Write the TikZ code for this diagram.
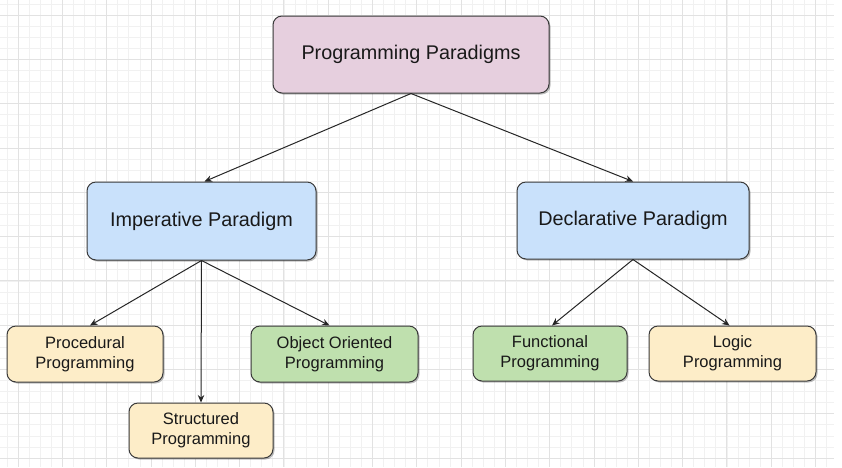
\documentclass[tikz,border=0pt]{standalone}
\usepackage{fontspec}
\setmainfont{Liberation Sans}
\usetikzlibrary{arrows.meta,shadows}
\definecolor{pinkfill}{HTML}{E6CFDE}
\definecolor{bluefill}{HTML}{C9E1FB}
\definecolor{yellowfill}{HTML}{FDEDC8}
\definecolor{greenfill}{HTML}{BFE0AE}
\definecolor{edgecol}{HTML}{3A3A3A}
\definecolor{minorgrid}{HTML}{F1F1F1}
\definecolor{majorgrid}{HTML}{E2E2E2}
\tikzset{
  box/.style={draw=edgecol, line width=1pt, rounded corners=9pt, align=center,
    text=black!90, inner sep=0pt,
    drop shadow={shadow xshift=1.5pt, shadow yshift=-1.5pt, opacity=0.25, fill=black}},
  bigbox/.style={box, font=\fontsize{19.8}{23}\selectfont},
  smallbox/.style={box, font=\fontsize{16.5}{20}\selectfont},
  conn/.style={draw=black!85, line width=1pt, -{Stealth[length=7.5pt,width=6.5pt]}}
}
\begin{document}
\begin{tikzpicture}[x=1pt,y=-1pt]
\useasboundingbox (0,0) rectangle (842,467);
\fill[white] (0,0) rectangle (842,467);
% grid
\begin{scope}
\clip (0,0) rectangle (834,467);
\foreach \i in {-2,...,76} {
  \draw[minorgrid, line width=0.6pt] ({18+11.075*\i},0) -- ({18+11.075*\i},467);
}
\foreach \i in {-2,...,42} {
  \draw[minorgrid, line width=0.6pt] (0,{15+11.075*\i}) -- (834,{15+11.075*\i});
}
\foreach \i in {-1,...,19} {
  \draw[majorgrid, line width=0.8pt] ({18+44.3*\i},0) -- ({18+44.3*\i},467);
}
\foreach \i in {-1,...,10} {
  \draw[majorgrid, line width=0.8pt] (0,{15+44.3*\i}) -- (834,{15+44.3*\i});
}
\end{scope}
% nodes
\node[bigbox, fill=pinkfill, minimum width=276pt, minimum height=77pt] (top) at (411,54.5) {Programming Paradigms};
\node[bigbox, fill=bluefill, minimum width=229pt, minimum height=78pt] (imp) at (201.5,221) {Imperative Paradigm};
\node[bigbox, fill=bluefill, minimum width=232pt, minimum height=77pt] (dec) at (633,220.5) {Declarative Paradigm};
\node[smallbox, fill=yellowfill, minimum width=156pt, minimum height=56pt] (proc) at (85,354) {Procedural\\Programming};
\node[smallbox, fill=yellowfill, minimum width=144pt, minimum height=55pt] (struc) at (201,430.5) {Structured\\Programming};
\node[smallbox, fill=greenfill, minimum width=167pt, minimum height=56pt] (oop) at (334.5,354) {Object Oriented\\Programming};
\node[smallbox, fill=greenfill, minimum width=154pt, minimum height=55pt] (func) at (550,353.5) {Functional\\Programming};
\node[smallbox, fill=yellowfill, minimum width=167pt, minimum height=55pt] (logic) at (732.5,353.5) {Logic\\Programming};
% connectors
\draw[conn] (top.south) -- ([xshift=3pt]imp.north);
\draw[conn] (top.south) -- (dec.north);
\draw[conn] (imp.south) -- ([xshift=5pt]proc.north);
\draw[conn] (imp.south) -- (struc.north);
\draw[conn] (imp.south) -- ([xshift=-5pt]oop.north);
\draw[conn] (dec.south) -- ([xshift=2pt]func.north);
\draw[conn] (dec.south) -- ([xshift=-3pt]logic.north);
\end{tikzpicture}
\end{document}
